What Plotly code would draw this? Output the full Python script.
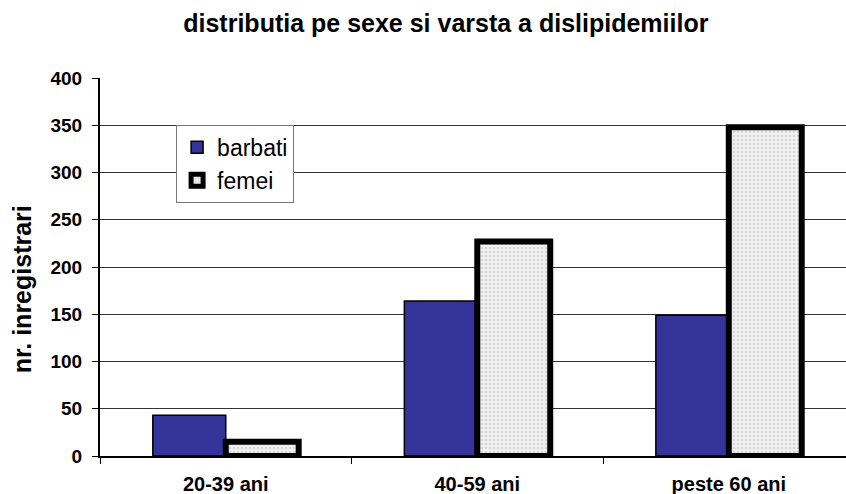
import plotly.graph_objects as go

# age groups and counts per sex
categories = ["20-39 ani", "40-59 ani", "peste 60 ani"]
barbati = [43, 164, 149]
femei = [15, 227, 348]
y_ticks = [0, 50, 100, 150, 200, 250, 300, 350, 400]

FONT = "Arial, Liberation Sans, sans-serif"

fig = go.Figure()

fig.add_trace(go.Bar(
    x=categories,
    y=barbati,
    name="barbati",
    marker=dict(color="#333399", line=dict(color="black", width=1.5)),
))

fig.add_trace(go.Bar(
    x=categories,
    y=femei,
    name="femei",
    marker=dict(
        color="#ececec",
        line=dict(color="black", width=6),
        pattern=dict(shape=".", fgcolor="#b8b8b8", bgcolor="#f2f2f2",
                     size=4, solidity=0.35),
    ),
))

fig.update_layout(
    width=846,
    height=494,
    margin=dict(l=100, r=0, t=78, b=38),
    paper_bgcolor="white",
    plot_bgcolor="white",
    barmode="group",
    bargap=0.42,
    bargroupgap=0,
    font=dict(family=FONT, color="black"),
    title=dict(
        text="distributia pe sexe si varsta a dislipidemiilor",
        font=dict(size=25, family=FONT, color="black", weight="bold"),
        xref="container", x=0.527, xanchor="center",
        yref="container", y=0.953, yanchor="middle",
    ),
    legend=dict(
        x=0.102, y=0.876, xanchor="left", yanchor="top",
        bgcolor="white", bordercolor="#777", borderwidth=1,
        font=dict(size=23, family=FONT, color="black"),
        tracegroupgap=0,
    ),
    showlegend=True,
)

# y axis title sits a bit below the plot's middle in the original
fig.add_annotation(
    text="nr. inregistrari",
    xref="paper", yref="paper",
    x=-0.105, y=0.44, xanchor="center", yanchor="middle",
    textangle=-90, showarrow=False,
    font=dict(size=25, family=FONT, color="black", weight="bold"),
)

fig.update_xaxes(
    type="category",
    range=[-0.5, 2.466],
    showline=True, linecolor="black", linewidth=2,
    ticks="outside", tickson="boundaries", ticklen=6, tickcolor="black",
    tickfont=dict(size=20, family=FONT, color="black", weight="bold"),
    ticklabelstandoff=9,
    showgrid=False,
    automargin=False,
)

fig.update_yaxes(
    range=[0, 400],
    tickvals=y_ticks,
    showline=True, linecolor="black", linewidth=2,
    ticks="outside", ticklen=6, tickcolor="black",
    tickfont=dict(size=19, family=FONT, color="black", weight="bold"),
    ticklabelstandoff=6,
    showgrid=True, gridcolor="#333", gridwidth=1,
    zeroline=False,
    automargin=False,
)

# drop the default page margin so the chart sits at the window's corner
fig.write_html("out.html", config={"displayModeBar": False},
               post_script="document.body.style.margin='0';")
